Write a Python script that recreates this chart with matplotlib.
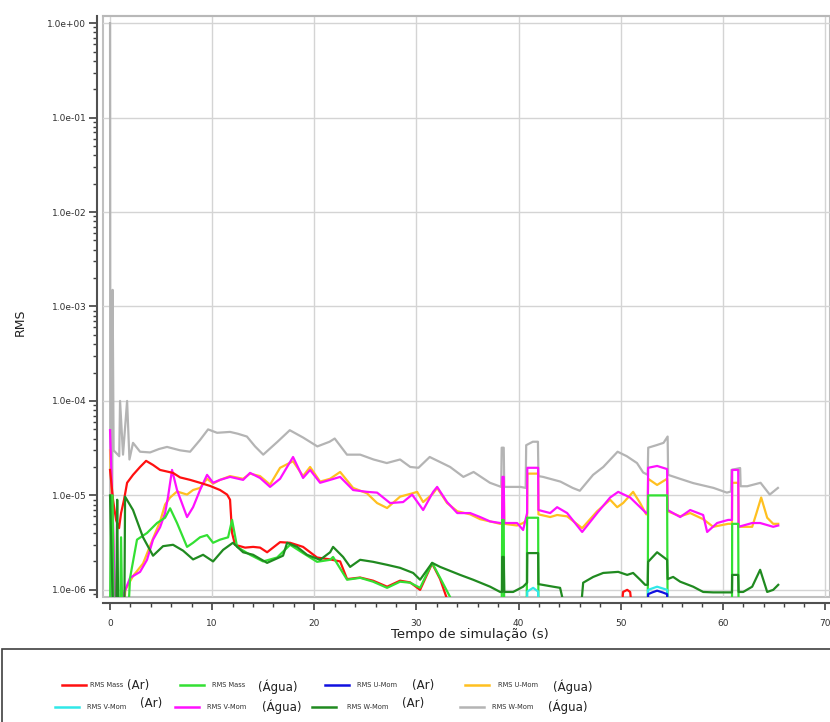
import matplotlib
matplotlib.use("Agg")
import matplotlib.pyplot as plt
from matplotlib.lines import Line2D
from matplotlib.patches import Rectangle
from matplotlib.ticker import LogLocator, MultipleLocator, FuncFormatter, NullFormatter

# series values (time in s, RMS residual)
t_mass_ar = [0.0, 0.29, 0.59, 0.88, 1.08, 1.37, 1.67, 2.25, 2.94, 3.53, 4.21, 4.9, 6.17, 6.86,
             7.84, 8.81, 9.79, 10.77, 11.46, 11.75, 11.95, 12.24, 13.22, 14.01, 14.69, 15.38,
             16.65, 17.63, 18.9, 20.27, 21.55, 22.53, 23.21, 24.49, 25.76, 27.13, 28.4, 29.38,
             30.36, 31.54, 32.32, 33.0, 34.0, 50.0, 50.24, 50.64, 50.93, 51.2, 65.43]
v_mass_ar = [1.86e-5, 9.0e-6, 5.5e-6, 4.5e-6, 6.5e-6, 9.0e-6, 1.36e-5, 1.65e-5, 2.0e-5, 2.32e-5,
             2.1e-5, 1.86e-5, 1.73e-5, 1.55e-5, 1.46e-5, 1.36e-5, 1.26e-5, 1.14e-5, 1.02e-5, 9.0e-6,
             4.0e-6, 3.0e-6, 2.8e-6, 2.85e-6, 2.8e-6, 2.5e-6, 3.2e-6, 3.15e-6, 2.85e-6, 2.2e-6,
             2.1e-6, 2.0e-6, 1.3e-6, 1.35e-6, 1.25e-6, 1.08e-6, 1.25e-6, 1.2e-6, 1.0e-6, 1.9e-6,
             1.3e-6, 8e-7, 5e-7, 5e-7, 9.5e-7, 1.0e-6, 9.5e-7, 5e-7, 5e-7]

t_mass_agua = [0.0, 0.1, 0.25, 0.35, 0.98, 1.08, 1.2, 1.76, 1.96, 2.64, 3.62, 4.6, 5.39, 5.88, 6.56,
               7.54, 8.13, 8.81, 9.5, 10.09, 10.77, 11.56, 11.95, 12.44, 13.71, 14.99, 16.36, 17.63,
               18.9, 20.27, 21.55, 21.84, 23.21, 24.49, 25.76, 27.13, 28.4, 29.38, 30.36, 31.54,
               32.32, 33.3, 33.5, 38.35, 38.4, 38.55, 38.6, 40.8, 40.84, 41.92, 41.95, 52.65, 52.69,
               54.55, 54.6, 60.9, 60.92, 61.51, 61.55, 65.43]
v_mass_agua = [5e-7, 1.0e-5, 1.0e-5, 5e-7, 5e-7, 3.6e-6, 5e-7, 5e-7, 1.34e-6, 3.4e-6, 4.0e-6, 5.1e-6,
               5.8e-6, 7.3e-6, 5.1e-6, 2.85e-6, 3.15e-6, 3.6e-6, 3.8e-6, 3.15e-6, 3.4e-6, 3.6e-6,
               5.5e-6, 2.85e-6, 2.35e-6, 2.0e-6, 2.2e-6, 3.0e-6, 2.45e-6, 1.98e-6, 2.08e-6, 2.23e-6,
               1.28e-6, 1.34e-6, 1.22e-6, 1.05e-6, 1.22e-6, 1.19e-6, 1.05e-6, 1.93e-6, 1.34e-6,
               8.4e-7, 5e-7, 5e-7, 5.5e-6, 5.5e-6, 5e-7, 5e-7, 5.8e-6, 5.8e-6, 5e-7, 5e-7, 1.0e-5,
               1.0e-5, 5e-7, 5e-7, 5e-6, 5e-6, 5e-7, 5e-7]

t_umom_ar = [0.0, 52.65, 52.69, 53.1, 53.57, 54.1, 54.55, 54.6, 65.43]
v_umom_ar = [5e-7, 5e-7, 9.0e-7, 9.4e-7, 9.8e-7, 9.4e-7, 9.0e-7, 5e-7, 5e-7]

t_umom_agua = [0.0, 0.3, 0.5, 1.3, 1.5, 2.25, 3.23, 4.21, 4.9, 5.39, 5.88, 6.56, 7.54, 8.13, 8.81,
               9.5, 10.09, 10.77, 11.75, 13.03, 13.71, 14.69, 15.67, 16.65, 17.92, 18.9, 19.59,
               20.57, 21.55, 22.53, 23.8, 25.17, 26.15, 27.13, 28.4, 29.58, 30.07, 30.66, 31.64,
               32.03, 33.0, 34.0, 35.26, 36.24, 37.22, 38.2, 38.39, 38.42, 38.55, 38.6, 39.86,
               40.45, 40.84, 40.86, 41.92, 41.95, 43.1, 43.78, 44.76, 46.23, 47.7, 48.97, 49.66,
               50.24, 51.22, 51.91, 52.5, 52.65, 52.69, 53.57, 54.55, 54.6, 55.83, 56.81, 58.08,
               59.06, 60.53, 60.9, 60.92, 61.51, 61.55, 62.88, 63.3, 63.76, 64.35, 64.94, 65.43]
v_umom_agua = [3.0e-5, 4e-6, 5e-7, 5e-7, 1.0e-6, 1.4e-6, 1.9e-6, 3.5e-6, 5.3e-6, 8.0e-6, 9.5e-6,
               1.1e-5, 1.02e-5, 1.14e-5, 1.2e-5, 1.5e-5, 1.33e-5, 1.46e-5, 1.6e-5, 1.5e-5, 1.7e-5,
               1.6e-5, 1.3e-5, 1.96e-5, 2.3e-5, 1.6e-5, 2.0e-5, 1.4e-5, 1.5e-5, 1.77e-5, 1.2e-5,
               1.05e-5, 8.3e-6, 7.35e-6, 9.7e-6, 1.05e-5, 1.09e-5, 8.5e-6, 1.05e-5, 1.2e-5, 8.3e-6,
               6.8e-6, 6.3e-6, 5.6e-6, 5.3e-6, 5.0e-6, 5.0e-6, 1.4e-5, 1.4e-5, 5.0e-6, 4.8e-6,
               5.1e-6, 5.5e-6, 1.7e-5, 1.7e-5, 6.3e-6, 5.9e-6, 6.2e-6, 6.0e-6, 4.5e-6, 6.8e-6,
               9.0e-6, 7.5e-6, 8.3e-6, 1.09e-5, 8.3e-6, 6.3e-6, 6.3e-6, 1.5e-5, 1.29e-5, 1.5e-5,
               6.8e-6, 6.0e-6, 6.5e-6, 5.6e-6, 4.65e-6, 5.0e-6, 5.0e-6, 1.36e-5, 1.36e-5, 4.65e-6,
               4.65e-6, 6.5e-6, 9.5e-6, 5.8e-6, 5.0e-6, 5.0e-6]

t_vmom_ar = [0.0, 40.8, 40.86, 41.43, 41.92, 41.95, 52.65, 52.69, 53.57, 54.55, 54.6, 65.43]
v_vmom_ar = [5e-7, 5e-7, 9.6e-7, 1.05e-6, 9.6e-7, 5e-7, 5e-7, 1.0e-6, 1.08e-6, 1.0e-6, 5e-7, 5e-7]

t_vmom_agua = [0.0, 0.15, 0.3, 0.5, 1.3, 1.4, 1.96, 2.94, 3.62, 4.21, 4.9, 5.39, 5.68, 6.07, 6.56,
               7.54, 8.13, 8.81, 9.5, 10.09, 10.77, 11.75, 13.03, 13.71, 14.69, 15.67, 16.65, 17.92,
               18.9, 19.59, 20.57, 21.55, 22.53, 23.8, 25.17, 26.15, 27.42, 28.7, 29.58, 30.66,
               31.64, 32.03, 33.0, 34.0, 35.26, 36.24, 37.22, 38.2, 38.39, 38.42, 38.55, 38.6,
               39.86, 40.45, 40.84, 40.86, 41.92, 41.95, 43.1, 43.78, 44.76, 46.23, 47.7, 48.97,
               49.76, 50.93, 51.91, 52.5, 52.65, 52.69, 53.57, 54.55, 54.6, 55.83, 56.81, 58.08,
               58.47, 59.45, 60.53, 60.9, 60.92, 61.51, 61.55, 62.88, 63.66, 64.94, 65.43]
v_vmom_agua = [4.9e-5, 1.5e-5, 5e-6, 5e-7, 5e-7, 9.4e-7, 1.34e-6, 1.55e-6, 2.08e-6, 3.4e-6, 4.6e-6,
               6.5e-6, 9.7e-6, 1.86e-5, 1.14e-5, 5.9e-6, 7.5e-6, 1.14e-5, 1.65e-5, 1.36e-5, 1.46e-5,
               1.57e-5, 1.46e-5, 1.73e-5, 1.53e-5, 1.23e-5, 1.5e-5, 2.55e-5, 1.53e-5, 1.86e-5,
               1.36e-5, 1.46e-5, 1.57e-5, 1.14e-5, 1.09e-5, 1.07e-5, 8.3e-6, 8.5e-6, 1.02e-5, 7.0e-6,
               1.09e-5, 1.23e-5, 8.5e-6, 6.5e-6, 6.5e-6, 5.9e-6, 5.3e-6, 5.1e-6, 5.1e-6, 1.57e-5,
               1.57e-5, 5.1e-6, 5.1e-6, 4.3e-6, 6.5e-6, 1.96e-5, 1.96e-5, 7.0e-6, 6.5e-6, 7.5e-6,
               6.5e-6, 4.1e-6, 6.5e-6, 9.5e-6, 1.09e-5, 9.5e-6, 7.5e-6, 6.5e-6, 6.5e-6, 1.96e-5,
               2.05e-5, 1.9e-5, 7.0e-6, 5.9e-6, 7.0e-6, 6.2e-6, 4.1e-6, 5.1e-6, 5.5e-6, 5.5e-6,
               1.86e-5, 1.86e-5, 4.65e-6, 5.1e-6, 5.1e-6, 4.65e-6, 4.8e-6]

t_wmom_ar = [0.0, 0.3, 0.6, 0.7, 0.8, 1.4, 1.47, 2.25, 3.23, 4.21, 5.19, 6.17, 7.15, 8.13, 9.11,
             10.09, 11.07, 12.03, 13.03, 14.01, 15.38, 16.94, 17.34, 18.32, 19.29, 20.57, 21.55,
             21.84, 22.82, 23.51, 24.49, 25.76, 27.13, 28.4, 29.68, 30.36, 31.54, 32.32, 34.28,
             35.55, 37.22, 38.2, 38.39, 38.4, 38.55, 38.6, 39.47, 40.45, 40.84, 40.86, 41.92,
             41.95, 43.39, 44.07, 44.76, 46.03, 46.33, 47.31, 48.29, 49.76, 50.64, 51.22, 51.91,
             52.4, 52.65, 52.69, 53.57, 54.55, 54.6, 55.14, 55.83, 57.1, 58.08, 59.06, 60.43, 60.9,
             60.92, 61.51, 61.55, 62.0, 62.88, 63.66, 64.35, 64.94, 65.43]
v_wmom_ar = [1.0e-5, 5e-7, 5e-7, 9e-6, 5e-7, 5e-7, 9.7e-6, 7.0e-6, 3.6e-6, 2.3e-6, 2.9e-6, 3.0e-6,
             2.6e-6, 2.1e-6, 2.35e-6, 2.0e-6, 2.65e-6, 3.15e-6, 2.5e-6, 2.35e-6, 1.93e-6, 2.3e-6,
             3.15e-6, 2.85e-6, 2.35e-6, 2.08e-6, 2.5e-6, 2.85e-6, 2.23e-6, 1.75e-6, 2.08e-6,
             1.98e-6, 1.84e-6, 1.71e-6, 1.51e-6, 1.28e-6, 1.93e-6, 1.75e-6, 1.44e-6, 1.28e-6,
             1.08e-6, 9.5e-7, 9.5e-7, 2.23e-6, 2.23e-6, 9.5e-7, 9.5e-7, 1.08e-6, 1.19e-6, 2.45e-6,
             2.45e-6, 1.15e-6, 1.08e-6, 1.05e-6, 5e-7, 5e-7, 1.19e-6, 1.37e-6, 1.51e-6, 1.55e-6,
             1.44e-6, 1.51e-6, 1.28e-6, 1.13e-6, 1.13e-6, 1.98e-6, 2.5e-6, 2.08e-6, 1.3e-6,
             1.37e-6, 1.22e-6, 1.08e-6, 9.5e-7, 9.4e-7, 9.4e-7, 9.4e-7, 1.44e-6, 1.44e-6, 9.5e-7,
             9.5e-7, 1.08e-6, 1.63e-6, 9.5e-7, 1.0e-6, 1.13e-6]

t_wmom_agua = [0.0, 0.03, 0.2, 0.25, 0.35, 0.9, 0.98, 1.27, 1.67, 1.9, 2.25, 2.94, 3.92, 4.8,
               5.58, 6.86, 7.84, 8.81, 9.6, 10.48, 11.75, 12.5, 13.4, 14.2, 15.0, 16.4, 17.6, 18.9,
               20.3, 21.5, 22.0, 23.2, 24.5, 25.8, 27.1, 28.4, 29.4, 30.2, 31.3, 32.3, 33.3, 34.6,
               35.6, 37.2, 38.3, 38.35, 38.55, 38.6, 40.2, 40.7, 40.75, 41.4, 41.9, 41.95, 42.4,
               44.1, 45.3, 46.0, 47.3, 48.3, 49.7, 50.6, 51.6, 52.2, 52.65, 52.7, 53.5, 54.2, 54.6,
               54.65, 55.8, 57.1, 59.1, 60.4, 60.8, 60.85, 61.7, 61.75, 62.4, 63.7, 64.6, 65.4]
v_wmom_agua = [1.0, 5e-7, 5e-7, 1.5e-3, 3e-5, 2.6e-5, 1.0e-4, 2.7e-5, 1.0e-4, 2.4e-5, 3.6e-5,
               2.9e-5, 2.85e-5, 3.1e-5, 3.26e-5, 3.0e-5, 2.9e-5, 3.86e-5, 5.0e-5, 4.6e-5, 4.7e-5,
               4.5e-5, 4.2e-5, 3.3e-5, 2.7e-5, 3.7e-5, 4.9e-5, 4.1e-5, 3.3e-5, 3.7e-5, 4.0e-5,
               2.7e-5, 2.7e-5, 2.4e-5, 2.2e-5, 2.4e-5, 2.0e-5, 1.96e-5, 2.55e-5, 2.26e-5, 2.0e-5,
               1.57e-5, 1.77e-5, 1.36e-5, 1.23e-5, 3.2e-5, 3.2e-5, 1.23e-5, 1.23e-5, 1.2e-5, 3.4e-5,
               3.7e-5, 3.7e-5, 1.6e-5, 1.57e-5, 1.4e-5, 1.2e-5, 1.12e-5, 1.65e-5, 2.0e-5, 2.9e-5,
               2.6e-5, 2.2e-5, 1.75e-5, 1.65e-5, 3.2e-5, 3.4e-5, 3.6e-5, 4.2e-5, 1.65e-5, 1.5e-5,
               1.35e-5, 1.2e-5, 1.07e-5, 1.1e-5, 1.86e-5, 1.95e-5, 1.25e-5, 1.25e-5, 1.36e-5,
               1.02e-5, 1.2e-5]

# legend names: small prefix + bigger phase name
names = ["RMS Mass", "RMS Mass", "RMS U-Mom", "RMS U-Mom",
         "RMS V-Mom", "RMS V-Mom", "RMS W-Mom", "RMS W-Mom"]
phases = ["(Ar)", "(Água)", "(Ar)", "(Água)", "(Ar)", "(Água)", "(Ar)", "(Água)"]
colors = ["#ff1010", "#33e033", "#1010e0", "#ffc020",
          "#30e8e8", "#ff10ff", "#208a20", "#b4b4b4"]

series = [(t_mass_ar, v_mass_ar), (t_mass_agua, v_mass_agua),
          (t_umom_ar, v_umom_ar), (t_umom_agua, v_umom_agua),
          (t_vmom_ar, v_vmom_ar), (t_vmom_agua, v_vmom_agua),
          (t_wmom_ar, v_wmom_ar), (t_wmom_agua, v_wmom_agua)]

W, H = 830, 722
fig = plt.figure(figsize=(W / 100, H / 100), dpi=100)
ax = fig.add_axes([103 / W, 1 - 597 / H, (W - 103) / W, (597 - 16) / H])

# draw order: gray behind, then the rest
order = [7, 3, 5, 0, 1, 6, 4, 2]
for i in order:
    t, v = series[i]
    ax.plot(t, v, color=colors[i], lw=1.6, solid_joinstyle="round")

ax.set_yscale("log")
ax.set_xlim(-0.69, 70.5)
ax.set_ylim(8.4e-7, 1.19)

ax.xaxis.set_major_locator(MultipleLocator(10))
ax.xaxis.set_minor_locator(MultipleLocator(2))
ax.yaxis.set_major_locator(LogLocator(base=10, numticks=10))
ax.yaxis.set_minor_locator(LogLocator(base=10, subs=range(2, 10), numticks=10))
ax.yaxis.set_minor_formatter(NullFormatter())
ax.yaxis.set_major_formatter(FuncFormatter(lambda v, p: "%.1e" % v))
ax.xaxis.set_major_formatter(FuncFormatter(lambda v, p: "%d" % v))

ax.grid(True, which="major", color="#d4d4d4", lw=1.0)
ax.set_axisbelow(True)

ax.spines["right"].set_visible(False)
ax.spines["top"].set_color("#b8b8b8")
ax.spines["top"].set_linewidth(1.5)
ax.spines["left"].set_position(("outward", 4))
ax.spines["bottom"].set_position(("outward", 4))
ax.spines["left"].set_color("#505050")
ax.spines["bottom"].set_color("#505050")
ax.spines["left"].set_linewidth(1.5)
ax.spines["bottom"].set_linewidth(1.5)
ax.patch.set_edgecolor("#c0c0c0")
ax.patch.set_linewidth(1.5)

ax.tick_params(axis="both", which="major", labelsize=6.5, colors="#404040",
               labelcolor="#303030", width=1.2)
ax.tick_params(axis="y", which="major", length=6, pad=2)
ax.tick_params(axis="y", which="minor", length=3, width=1, colors="#404040")
ax.tick_params(axis="x", which="major", length=5, pad=7)
ax.tick_params(axis="x", which="minor", length=3, width=1, colors="#404040")

ax.set_ylabel("RMS", fontsize=9, color="#202020")
ax.yaxis.set_label_coords(-0.105, 0.473)
ax.set_xlabel("Tempo de simulação (s)", fontsize=9.5, color="#202020")
ax.xaxis.set_label_coords(0.505, -0.054)

# legend drawn as a box under the plot
fig.add_artist(Rectangle((2 / W, -0.01), 1.0, 1 - 649 / H + 0.01, transform=fig.transFigure,
                         facecolor="white", edgecolor="#404040", lw=1.2))
line_x = [62, 180, 325, 465, 55, 175, 312, 460]
name_x = [90, 212, 357, 498, 87, 207, 347, 492]
phase_x = [127, 258, 412, 553, 140, 262, 402, 548]
row_y = [685, 685, 685, 685, 707, 707, 707, 707]
for i in range(8):
    yy = 1 - row_y[i] / H
    fig.add_artist(Line2D([line_x[i] / W, (line_x[i] + 24) / W], [yy, yy],
                          transform=fig.transFigure, color=colors[i], lw=1.8))
    fig.text(name_x[i] / W, yy, names[i], fontsize=4.8, color="#303030", va="center", ha="left")
    dy = 0
    if phases[i] == "(Água)" and i < 4:
        dy = -2
    if phases[i] == "(Ar)" and i >= 4:
        dy = 3
    fig.text(phase_x[i] / W, yy + dy / H, phases[i], fontsize=8.5,
             color="#202020", va="center", ha="left")

fig.savefig("out.png", dpi=100)
